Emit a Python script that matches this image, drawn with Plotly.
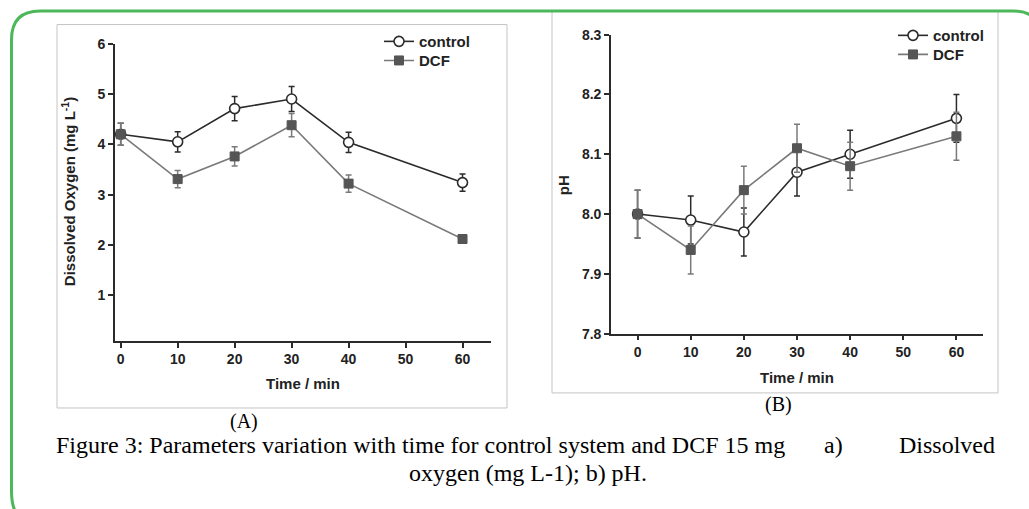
import plotly.graph_objects as go

W, H = 1029, 509

# ---------------- data ----------------
time_min = [0, 10, 20, 30, 40, 60]

do_control = [4.20, 4.05, 4.71, 4.90, 4.04, 3.24]
do_control_err = [0.22, 0.20, 0.24, 0.25, 0.20, 0.17]
do_dcf = [4.20, 3.31, 3.76, 4.38, 3.22, 2.12]
do_dcf_err = [0.22, 0.17, 0.19, 0.23, 0.17, 0.08]

ph_control = [8.00, 7.99, 7.97, 8.07, 8.10, 8.16]
ph_control_err = [0.04, 0.04, 0.04, 0.04, 0.04, 0.04]
ph_dcf = [8.00, 7.94, 8.04, 8.11, 8.08, 8.13]
ph_dcf_err = [0.04, 0.04, 0.04, 0.04, 0.04, 0.04]

x_ticks = [0, 10, 20, 30, 40, 50, 60]
do_ticks = [1, 2, 3, 4, 5, 6]
ph_ticks = [7.8, 7.9, 8.0, 8.1, 8.2, 8.3]
ph_ticktext = ["7.8", "7.9", "8.0", "8.1", "8.2", "8.3"]

series_names = ["control", "DCF"]

# the page photo shows the figure slightly squeezed vertically;
# positions below are given in the reference's pixel frame and mapped here
SQ, OFF = 0.965, 8.5


def px(x):
    return x / W


def py(y):
    return 1 - ((y - OFF) / SQ) / H


DARK = "#2b2b2b"
GRAY = "#7a7a7a"
MARK_GRAY = "#555555"
SANS = "Liberation Sans"
SERIF = "Liberation Serif"

fig = go.Figure()


def add_pair(xref, yref, legs, ctrl, ctrl_err, dcf, dcf_err):
    fig.add_trace(go.Scatter(
        x=time_min, y=ctrl, name=series_names[0], mode="lines+markers",
        xaxis=xref, yaxis=yref, legend=legs[0],
        line=dict(color=DARK, width=1.6),
        marker=dict(symbol="circle", size=10, color="white",
                    line=dict(color=DARK, width=1.6)),
        error_y=dict(type="data", array=ctrl_err, color=DARK,
                     thickness=1.5, width=3),
    ))
    fig.add_trace(go.Scatter(
        x=time_min, y=dcf, name=series_names[1], mode="lines+markers",
        xaxis=xref, yaxis=yref, legend=legs[1],
        line=dict(color=GRAY, width=1.6),
        marker=dict(symbol="square", size=9, color=MARK_GRAY,
                    line=dict(color=MARK_GRAY, width=1)),
        error_y=dict(type="data", array=dcf_err, color=GRAY,
                     thickness=1.5, width=3),
    ))


add_pair("x", "y", ("legend", "legend2"),
         do_control, do_control_err, do_dcf, do_dcf_err)
add_pair("x2", "y2", ("legend3", "legend4"),
         ph_control, ph_control_err, ph_dcf, ph_dcf_err)

axis_common = dict(
    showline=True, linecolor=DARK, linewidth=1.6,
    ticks="outside", ticklen=5, tickwidth=1.5, tickcolor=DARK,
    tickfont=dict(family=SANS, size=14, color="#222", weight="bold"),
    showgrid=False, zeroline=False, fixedrange=True,
)

leg_font = dict(family=SANS, size=15, color="#222", weight="bold")


def leg(x, y):
    return dict(x=px(x), y=py(y), xanchor="left", yanchor="middle",
                bgcolor="rgba(0,0,0,0)", borderwidth=0, font=leg_font)


fig.update_layout(
    width=W, height=H,
    margin=dict(l=0, r=0, t=0, b=0),
    paper_bgcolor="white", plot_bgcolor="white",
    xaxis=dict(domain=[px(115), px(491)], range=[-1, 65], tickvals=x_ticks,
               anchor="y", **axis_common),
    yaxis=dict(domain=[py(340), py(44)], range=[0.1, 6], tickvals=do_ticks,
               anchor="x", **axis_common),
    xaxis2=dict(domain=[px(611), px(983)], range=[-5, 65], tickvals=x_ticks,
                anchor="y2", **axis_common),
    yaxis2=dict(domain=[py(333), py(35)], range=[7.8, 8.3], tickvals=ph_ticks,
                ticktext=ph_ticktext, anchor="x2", **axis_common),
    legend=leg(379, 42),
    legend2=leg(379, 61),
    legend3=leg(893, 36),
    legend4=leg(893, 55),
    showlegend=True,
)

# panel borders
panel_line = dict(color="#c4c4c4", width=1)
fig.add_shape(type="rect", xref="paper", yref="paper",
              x0=px(57), x1=px(507), y0=py(407), y1=py(25),
              line=panel_line, layer="below")
fig.add_shape(type="rect", xref="paper", yref="paper",
              x0=px(552), x1=px(998), y0=py(392), y1=py(12),
              line=panel_line, layer="below")


# green rounded frame (right and bottom edges run off the picture)
def P(x, y):
    return f"{px(x):.5f},{py(y):.5f}"


frame_path = (
    f"M {P(11.5, 490)} L {P(11.5, 40)} Q {P(11.5, 11.5)} {P(40, 11.5)} "
    f"L {P(1013, 11.5)} Q {P(1042, 11.5)} {P(1042, 40)} "
    f"L {P(1042, 490)} Q {P(1042, 522)} {P(1013, 522)} "
    f"L {P(36, 522)} Q {P(11.5, 522)} {P(11.5, 490)} Z"
)
fig.add_shape(type="path", xref="paper", yref="paper", path=frame_path,
              line=dict(color="#4cb85a", width=3), layer="above")

ann_sans = dict(family=SANS, size=15, color="#222", weight="bold")
ann_serif = dict(family=SERIF, size=20, color="black")
cap_serif = dict(family=SERIF, size=24, color="black")


def ann(x, y, text, font, xanchor="center", angle=0):
    fig.add_annotation(x=px(x), y=py(y), xref="paper", yref="paper",
                       text=text, showarrow=False, font=font,
                       xanchor=xanchor, yanchor="middle", textangle=angle)


# axis titles
ann(303, 383, "Time / min", ann_sans)
ann(797, 377, "Time / min", ann_sans)
ann(68, 192, "Dissolved Oxygen (mg L<sup>-1</sup>)", ann_sans, angle=-90)
ann(563, 185, "pH", ann_sans, angle=-90)

# panel labels and caption
ann(244, 420, "(A)", ann_serif)
ann(778, 404, "(B)", ann_serif)
ann(54, 444, "Figure 3: Parameters variation with time for control system and DCF 15 mg",
    cap_serif, xanchor="left")
ann(822, 444, "a)", cap_serif, xanchor="left")
ann(997, 444, "Dissolved", cap_serif, xanchor="right")
ann(528, 472, "oxygen (mg L-1); b) pH.", cap_serif)

fig.write_html(
    "out.html",
    config={"displayModeBar": False},
    post_script=(
        "document.documentElement.style.margin='0px';"
        "document.body.style.margin='0px';"
        "document.documentElement.style.overflow='hidden';"
        "document.body.style.overflow='hidden';"
    ),
)
